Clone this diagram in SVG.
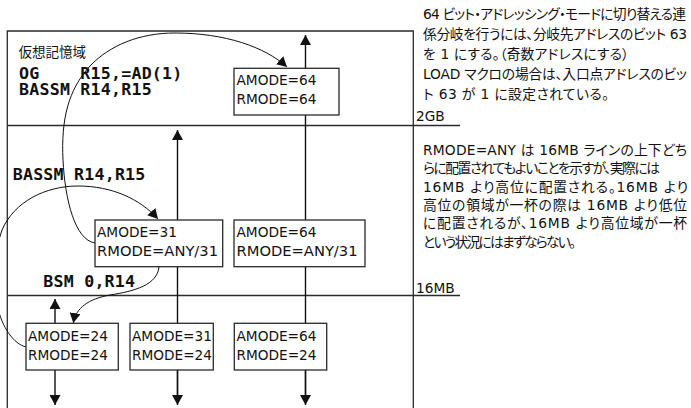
<svg xmlns="http://www.w3.org/2000/svg" width="691" height="408" viewBox="0 0 691 408">
<style>
.frame{fill:none;stroke:#2a2a2a;stroke-width:1.3}
.box rect{fill:#fff;stroke:#2a2a2a;stroke-width:1.3}
.box text{font-family:"DejaVu Sans",Verdana,sans-serif;font-size:14.6px;fill:#111}
.code{font-family:"DejaVu Sans Mono","Liberation Mono",monospace;font-weight:bold;font-size:16.6px;letter-spacing:0.23px;fill:#111}
.jp{font-family:"DejaVu Sans","Noto Sans CJK JP",sans-serif;font-size:13.8px;fill:#111;font-feature-settings:"palt"}
.lbl{font-family:"DejaVu Sans",sans-serif;font-size:13.7px;fill:#111}
.arr{fill:none;stroke:#111;stroke-width:1.4}
.crv{fill:none;stroke:#111;stroke-width:1}
</style>
<defs>
<marker id="ah" viewBox="0 0 10 11" refX="10" refY="5.5" markerWidth="10" markerHeight="11" markerUnits="userSpaceOnUse" orient="auto">
<path d="M0,0 L10,5.5 L0,11 z" fill="#111"/>
</marker>
</defs>
<g id="frame">
<polyline class="frame" points="7.3,410 7.3,31 413.3,31 413.3,410"/>
<line class="frame" x1="7.3" y1="125.5" x2="460" y2="125.5"/>
<line class="frame" x1="7.3" y1="295.5" x2="460" y2="295.5"/>
<text class="lbl" x="416" y="120.5">2GB</text>
<text class="lbl" x="416" y="292.5">16MB</text>
</g>
<g id="connectors">
<line class="arr" x1="305.5" y1="395" x2="305.5" y2="35" marker-end="url(#ah)"/>
<line class="arr" x1="305.5" y1="370" x2="305.5" y2="405" marker-end="url(#ah)"/>
<line class="arr" x1="177.5" y1="395" x2="177.5" y2="130" marker-end="url(#ah)"/>
<line class="arr" x1="177.5" y1="370" x2="177.5" y2="405" marker-end="url(#ah)"/>
<line class="arr" x1="55" y1="323" x2="55" y2="299" marker-end="url(#ah)"/>
<line class="arr" x1="55" y1="370" x2="55" y2="405" marker-end="url(#ah)"/>
<path class="crv" d="M95,243 C75,240 65,200 63,160 C61,120 68,90 90,66 C110,45 140,33 175,33 C225,33 265,47 287,67" marker-end="url(#ah)"/>
<path class="crv" d="M26,347 C14,344 2,328 -3,305 C-7,280 -6,252 2,230 C14,202 45,186 78,186 C112,186 140,199 158,219" marker-end="url(#ah)"/>
<path class="crv" d="M159,267 C157,285 135,291 110,295 C88,299 76,308 73.3,323" marker-end="url(#ah)"/>
</g>
<g id="labels">
<text x="18.5" y="57" style="font-family:'Noto Sans CJK JP',sans-serif;font-size:13.5px;fill:#111">仮想記憶域</text>
<text class="code" x="19" y="78.8" xml:space="preserve">OG    R15,=AD(1)</text>
<text class="code" x="19" y="95">BASSM R14,R15</text>
<text class="code" x="12.7" y="180">BASSM R14,R15</text>
<text class="code" x="43.3" y="286.7">BSM 0,R14</text>
</g>
<g id="boxA" class="box"><rect x="234" y="68.3" width="105" height="46.7"/><text x="236.5" y="85" textLength="80" lengthAdjust="spacingAndGlyphs">AMODE=64</text><text x="236.5" y="104" textLength="80" lengthAdjust="spacingAndGlyphs">RMODE=64</text></g>
<g id="boxB" class="box"><rect x="95" y="220" width="127.7" height="46.7"/><text x="97" y="236.7" textLength="80" lengthAdjust="spacingAndGlyphs">AMODE=31</text><text x="97" y="256" textLength="121" lengthAdjust="spacingAndGlyphs">RMODE=ANY/31</text></g>
<g id="boxC" class="box"><rect x="234" y="220" width="131" height="46.7"/><text x="236.5" y="236.7" textLength="80" lengthAdjust="spacingAndGlyphs">AMODE=64</text><text x="236.5" y="256" textLength="121" lengthAdjust="spacingAndGlyphs">RMODE=ANY/31</text></g>
<g id="boxD" class="box"><rect x="26" y="323.3" width="92.3" height="46.7"/><text x="28" y="341.3" textLength="80" lengthAdjust="spacingAndGlyphs">AMODE=24</text><text x="28" y="360" textLength="80" lengthAdjust="spacingAndGlyphs">RMODE=24</text></g>
<g id="boxE" class="box"><rect x="130" y="323.3" width="83.3" height="46.7"/><text x="132" y="341.3" textLength="80" lengthAdjust="spacingAndGlyphs">AMODE=31</text><text x="132" y="360" textLength="80" lengthAdjust="spacingAndGlyphs">RMODE=24</text></g>
<g id="boxF" class="box"><rect x="234.3" y="323.3" width="92.4" height="46.7"/><text x="236.5" y="341.3" textLength="80" lengthAdjust="spacingAndGlyphs">AMODE=64</text><text x="236.5" y="360" textLength="80" lengthAdjust="spacingAndGlyphs">RMODE=24</text></g>
<g id="note64">
<text class="jp" x="423" y="18.5" textLength="263" lengthAdjust="spacing">64 ビット・アドレッシング・モードに切り替える連</text>
<text class="jp" x="423" y="38.5" textLength="264" lengthAdjust="spacing">係分岐を行うには、分岐先アドレスのビット 63</text>
<text class="jp" x="423" y="58.5" textLength="206" lengthAdjust="spacing">を 1 にする。（奇数アドレスにする）</text>
<text class="jp" x="423" y="78.5" textLength="264" lengthAdjust="spacing">LOAD  マクロの場合は、入口点アドレスのビッ</text>
<text class="jp" x="423" y="98.5" textLength="186" lengthAdjust="spacing">ト 63 が 1 に設定されている。</text>
</g>
<g id="noteAny">
<text class="jp" x="423" y="155" textLength="264" lengthAdjust="spacing">RMODE=ANY は 16MB ラインの上下どち</text>
<text class="jp" x="423" y="173.3" textLength="237" lengthAdjust="spacing">らに配置されてもよいことを示すが、実際には</text>
<text class="jp" x="423" y="191.6" textLength="265" lengthAdjust="spacing">16MB  より高位に配置される。16MB  より</text>
<text class="jp" x="423" y="210" textLength="264" lengthAdjust="spacing">高位の領域が一杯の際は  16MB  より低位</text>
<text class="jp" x="423" y="228.3" textLength="264" lengthAdjust="spacing">に配置されるが、16MB  より高位域が一杯</text>
<text class="jp" x="423" y="246.6" textLength="153" lengthAdjust="spacing">という状況にはまずならない。</text>
</g>
</svg>
